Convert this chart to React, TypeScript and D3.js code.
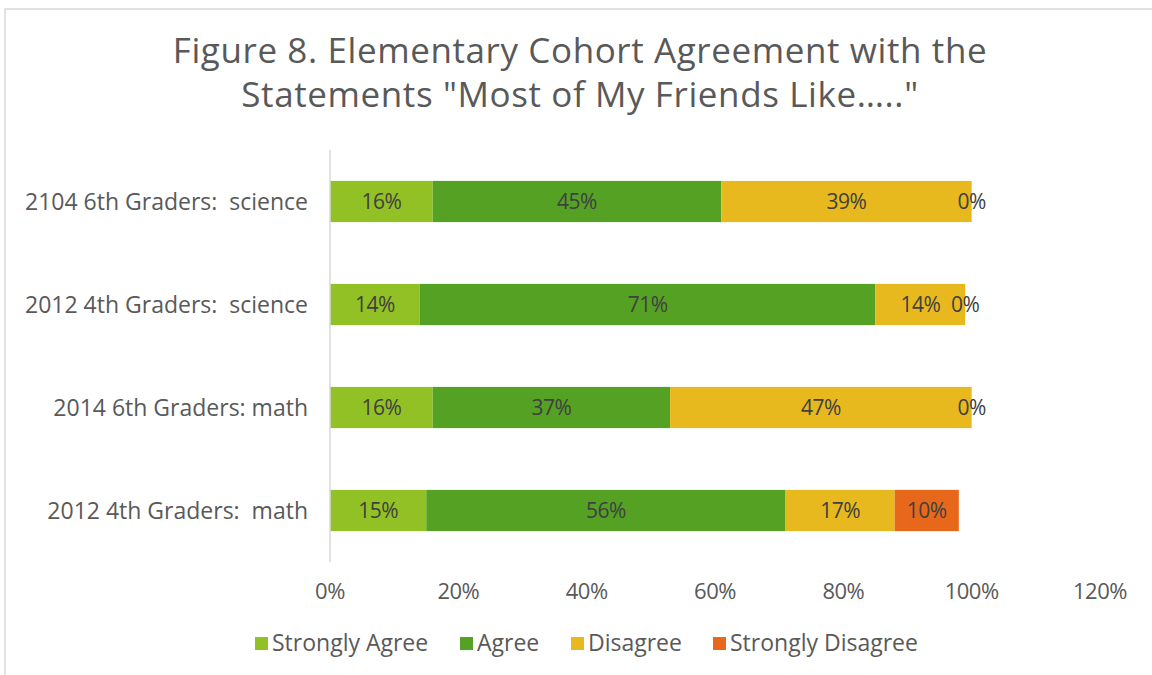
import React, { useEffect, useRef } from "react";
import * as d3 from "d3";

const categories = [
  "2104 6th Graders:  science",
  "2012 4th Graders:  science",
  "2014 6th Graders: math",
  "2012 4th Graders:  math",
];
const seriesNames = ["Strongly Agree", "Agree", "Disagree", "Strongly Disagree"];
const stronglyAgree = [16, 14, 16, 15];
const agree = [45, 71, 37, 56];
const disagree = [39, 14, 47, 17];
const stronglyDisagree = [0, 0, 0, 10];
const xTicks = [0, 20, 40, 60, 80, 100, 120];
const colors = ["#92c125", "#55a124", "#e7b91f", "#e8681b"];
const titleLines = [
  "Figure 8. Elementary Cohort Agreement with the",
  'Statements "Most of My Friends Like….."',
];

const FONT = "'Open Sans', sans-serif";

const App = () => {
  const ref = useRef<SVGSVGElement | null>(null);

  useEffect(() => {
    if (ref.current) drawChart(ref.current);
  }, []);

  return (
    <svg
      ref={ref}
      width={1152}
      height={675}
      style={{ position: "absolute", left: 0, top: 0, background: "#fff" }}
    />
  );
};

function drawChart(node: SVGSVGElement) {
  const svg = d3.select(node);
  svg.selectAll("*").remove();

  // chart border
  svg
    .append("rect")
    .attr("x", 5)
    .attr("y", 9)
    .attr("width", 1160)
    .attr("height", 700)
    .attr("fill", "#fff")
    .attr("stroke", "#d9d9d9")
    .attr("stroke-width", 1.5);

  // title
  svg
    .append("g")
    .selectAll("text")
    .data(titleLines)
    .enter()
    .append("text")
    .attr("x", 580)
    .attr("y", (d, i) => 63 + i * 44)
    .attr("text-anchor", "middle")
    .attr("fill", "#595959")
    .style("font-family", FONT)
    .style("font-size", "35px")
    .style("letter-spacing", "0.6px")
    .text((d) => d);

  const values = [stronglyAgree, agree, disagree, stronglyDisagree];
  const rows = categories.map((c, i) => {
    const row: any = { category: c };
    seriesNames.forEach((s, j) => (row[s] = values[j][i]));
    return row;
  });
  const stacked = d3.stack().keys(seriesNames)(rows);

  const x = d3.scaleLinear().domain([0, 120]).range([330, 1100]);
  const y = d3
    .scaleBand()
    .domain(categories)
    .range([150, 562])
    .paddingInner(0.6)
    .paddingOuter(0.3);

  // bars
  const layers = svg
    .append("g")
    .selectAll("g")
    .data(stacked)
    .enter()
    .append("g")
    .attr("fill", (d, i) => colors[i]);

  layers
    .selectAll("rect")
    .data((d) => d)
    .enter()
    .append("rect")
    .attr("x", (d) => x(d[0]))
    .attr("y", (d: any) => y(d.data.category)!)
    .attr("width", (d) => x(d[1]) - x(d[0]))
    .attr("height", y.bandwidth());

  // data labels
  layers
    .selectAll("text")
    .data((d) => d)
    .enter()
    .append("text")
    .attr("x", (d) => (x(d[0]) + x(d[1])) / 2)
    .attr("y", (d: any) => y(d.data.category)! + y.bandwidth() / 2)
    .attr("dy", "0.36em")
    .attr("text-anchor", "middle")
    .attr("fill", "#404040")
    .style("font-family", FONT)
    .style("font-size", "21px")
    .style("letter-spacing", "-0.5px")
    .text((d) => `${d[1] - d[0]}%`);

  // category axis
  svg
    .append("line")
    .attr("x1", x(0))
    .attr("x2", x(0))
    .attr("y1", 150)
    .attr("y2", 562)
    .attr("stroke", "#d9d9d9")
    .attr("stroke-width", 1.5);

  svg
    .append("g")
    .selectAll("text")
    .data(categories)
    .enter()
    .append("text")
    .attr("x", 308)
    .attr("y", (d) => y(d)! + y.bandwidth() / 2)
    .attr("dy", "0.36em")
    .attr("text-anchor", "end")
    .attr("fill", "#595959")
    .style("font-family", FONT)
    .style("font-size", "23px")
    .style("white-space", "pre")
    .text((d) => d);

  // value axis labels
  svg
    .append("g")
    .selectAll("text")
    .data(xTicks)
    .enter()
    .append("text")
    .attr("x", (d) => x(d))
    .attr("y", 599)
    .attr("text-anchor", "middle")
    .attr("fill", "#595959")
    .style("font-family", FONT)
    .style("font-size", "22px")
    .style("letter-spacing", "-0.5px")
    .text((d) => `${d}%`);

  // legend
  const legendX = [255, 460, 571, 713];
  const legend = svg
    .append("g")
    .selectAll("g")
    .data(seriesNames)
    .enter()
    .append("g")
    .attr("transform", (d, i) => `translate(${legendX[i]},637)`);

  legend
    .append("rect")
    .attr("width", 13)
    .attr("height", 13)
    .attr("fill", (d, i) => colors[i]);

  legend
    .append("text")
    .attr("x", 17)
    .attr("y", 6)
    .attr("dy", "0.36em")
    .attr("fill", "#595959")
    .style("font-family", FONT)
    .style("font-size", "23px")
    .text((d) => d);
}

export default App;
